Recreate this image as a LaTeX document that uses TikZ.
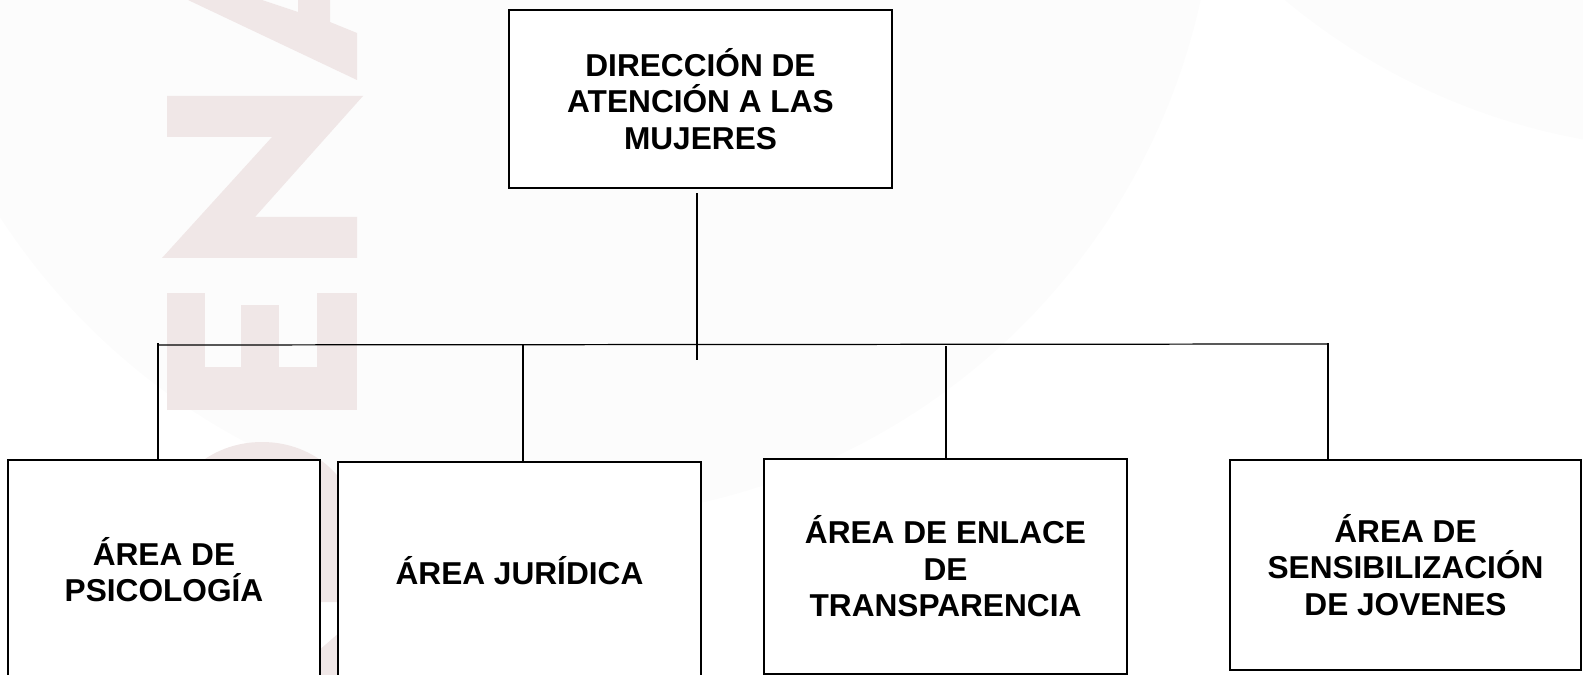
\documentclass[tikz,border=0pt]{standalone}
\usepackage{fontspec}
\setmainfont{Liberation Sans}
\definecolor{marca}{RGB}{240,231,231}
\tikzset{
  caja/.style={draw, line width=0.7pt, fill=white, align=center, inner sep=0pt,
    font=\bfseries\fontsize{9}{10.4}\selectfont},
  linea/.style={line width=0.35pt}
}
\begin{document}
\begin{tikzpicture}[x=0.1mm,y=-0.1mm]
  \useasboundingbox (0,0) rectangle (1583,675);
  \clip (0,0) rectangle (1583,675);

  % fondo
  \fill[black!1] (555,-142) circle (661);
  \fill[black!1] (1700,-500) circle (650);

  % marca de agua
  \fill[marca] (188,0) -- (357,80) -- (357,33) -- (330,22) -- (330,0) -- (298,0) -- (298,12) -- (262,0) -- cycle;
  \fill[marca] (167,96) -- (363,96) -- (255,217) -- (357,217) -- (357,258) -- (162,258) -- (272,137) -- (167,137) -- cycle;
  \fill[marca] (167,367) rectangle (357,410);
  \foreach \a/\b/\t in {167/205/293, 241/279/305, 317/357/293}
    \fill[marca] (\a,\t) rectangle (\b,367);
  \fill[marca] (167,602) -- (357,602) -- (357,530) .. controls (357,480) and (315,442) .. (262,442)
    .. controls (209,442) and (167,480) .. (167,530) -- cycle;
  \fill[marca] (317,652) -- (340,632) -- (357,648) -- (357,680) -- (317,680) -- cycle;

  \node[caja, minimum width=38.3mm, minimum height=17.8mm] (dir) at (700.5,99) {DIRECCIÓN DE\\ATENCIÓN A LAS\\MUJERES};
  \node[caja, minimum width=31.2mm, minimum height=21.9mm] (psi) at (164,569.5) {ÁREA DE\\PSICOLOGÍA};
  \node[caja, minimum width=36.3mm, minimum height=21.8mm] (jur) at (519.5,571) {ÁREA JURÍDICA};
  \node[caja, minimum width=36.3mm, minimum height=21.5mm] (enl) at (945.5,566.5) {ÁREA DE ENLACE\\DE\\TRANSPARENCIA};
  \node[caja, minimum width=35.1mm, minimum height=21mm] (sen) at (1405.5,565) {ÁREA DE\\SENSIBILIZACIÓN\\DE JOVENES};

  \coordinate (cen) at (697,360);
  \coordinate (bi) at (157,345);
  \coordinate (bd) at (1327,344);
  \draw[linea] ([yshift=-0.4mm]dir.south -| cen) -- (cen);
  \draw[linea] (bi) -- (bd);
  \foreach \n/\x/\y in {psi/158/343, jur/523/345, enl/946/346, sen/1328/343} {
      \coordinate (d\n) at (\x,\y);
      \draw[linea] (d\n) -- (d\n |- \n.north);
    }
\end{tikzpicture}
\end{document}
